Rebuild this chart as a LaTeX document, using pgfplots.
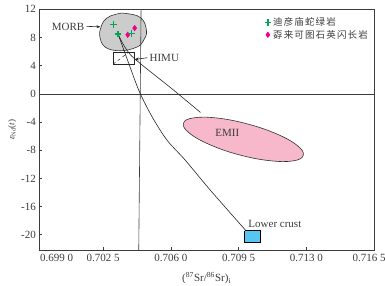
\documentclass[border=0pt]{standalone}
\usepackage{pgfplots}
\pgfplotsset{compat=1.18}
\usepackage{fontspec}
\setmainfont{Liberation Serif}
\newfontfamily\cjk[LetterSpace=12]{Noto Sans CJK SC}
\usetikzlibrary{arrows.meta}
\definecolor{gplus}{RGB}{0,166,81}
\definecolor{mdiam}{RGB}{236,0,140}
\definecolor{morbgray}{RGB}{204,204,204}
\definecolor{empink}{RGB}{247,184,204}
\definecolor{lcblue}{RGB}{86,197,240}
\definecolor{axgray}{RGB}{60,60,60}
\begin{document}
\begin{tikzpicture}
\begin{axis}[
  scale only axis, width=334.7pt, height=241pt,
  xmin=0.6992, xmax=0.7165, ymin=-22.2, ymax=12,
  axis line style={axgray, line width=0.6pt},
  tick align=inside, xtick pos=bottom, ytick pos=left,
  major tick length=3pt,
  tick style={axgray, line width=0.6pt},
  scaled x ticks=false,
  xtick={0.7025,0.7060,0.7095,0.7130},
  xticklabels={0.702 5,0.706 0,0.709 5,0.713 0},
  extra x ticks={0.70010,0.71625},
  extra x tick labels={0.699 0,0.716 5},
  extra x tick style={major tick length=0pt},
  ytick={-20,-16,...,12},
  /pgf/number format/assume math mode=true,
  ticklabel style={font=\fontsize{11}{13}\selectfont, text=axgray},
  xlabel={(\textsuperscript{87}Sr/\textsuperscript{86}Sr)\textsubscript{i}},
  xlabel style={at={(rel axis cs:0.5,0)}, anchor=center, yshift=-27.7pt, font=\fontsize{11}{13}\selectfont, text=axgray},
  ylabel={\textit{ε}\textsubscript{Nd}(\textit{t})},
  ylabel style={at={(rel axis cs:-0.0807,0.5)}, anchor=center, font=\fontsize{9}{11}\selectfont, text=axgray},
  legend style={draw=none, fill=none, at={(1,1)}, anchor=north east, xshift=-3pt, yshift=-5pt,
    font=\cjk\fontsize{9.5}{10}\selectfont, text=axgray, row sep=-1pt, inner sep=1pt},
  legend cell align=left,
  legend image code/.code={\draw[#1] plot coordinates {(0pt,0pt)};},
]
% MORB field
\addplot[fill=morbgray, draw=black!80, line width=0.6pt, smooth cycle, tension=0.7, forget plot] coordinates {
(0.70365,11.42) (0.70445,10.78) (0.70474,8.95) (0.70458,7.53) (0.70422,6.61) (0.70339,6.12)
(0.70262,6.61) (0.70233,8.10) (0.70241,9.65) (0.70267,10.71) (0.70314,11.28)};
% EMII field
\addplot[fill=empink, draw=black!80, line width=0.6pt, smooth cycle, tension=0.7, forget plot] coordinates {
(0.71284,-8.73) (0.71232,-9.51) (0.71110,-9.48) (0.70953,-8.65) (0.70802,-7.22) (0.70696,-5.58)
(0.70665,-4.18) (0.70717,-3.41) (0.70839,-3.43) (0.70996,-4.27) (0.71148,-5.70) (0.71254,-7.34)};
% reference lines
\addplot[axgray, line width=0.6pt, forget plot] coordinates {(0.6992,0) (0.7165,0)};
\addplot[axgray, line width=0.6pt, forget plot] coordinates {(0.70446,12) (0.70434,-22.2)};
% lower crust box
\addplot[fill=lcblue, draw=black, line width=0.7pt, forget plot] coordinates {
(0.70981,-19.42) (0.71062,-19.42) (0.71062,-21.06) (0.70981,-21.06) (0.70981,-19.42)};
% HIMU box
\addplot[draw=black!85, line width=0.6pt, forget plot] coordinates {
(0.70301,4.21) (0.70412,4.21) (0.70412,5.88) (0.70301,5.88) (0.70301,4.21)};
\addplot[draw=black!85, line width=0.5pt, dashed, forget plot] coordinates {(0.70301,4.21) (0.70381,5.88)};
% mixing curves
\addplot[black!85, line width=0.6pt, smooth, forget plot] coordinates {
(0.70327,8.48) (0.70381,4.42) (0.70437,0.33) (0.70505,-3.35) (0.70581,-6.60) (0.70675,-9.43) (0.70804,-13.67) (0.70985,-19.32)};
\addplot[black!85, line width=0.6pt, smooth, forget plot] coordinates {
(0.70327,8.48) (0.70355,6.97) (0.70391,5.55) (0.70443,4.28) (0.70520,2.59) (0.70623,0.33) (0.70753,-2.64)};
% samples
\addplot[only marks, mark=+, mark size=3.3pt, gplus, line width=1.3pt] coordinates {
(0.70305,9.80) (0.70327,8.48)};
\addlegendentry{迪彦庙蛇绿岩}
\addplot[only marks, mark=diamond*, mark size=2.8pt, mdiam, draw=mdiam] coordinates {
(0.70377,8.38) (0.70413,9.33)};
\addlegendentry{孬来可图石英闪长岩}
\addplot[only marks, mark=+, mark size=3.3pt, gplus, line width=1.3pt, forget plot] coordinates {
(0.70396,8.57)};
% labels
\draw[black!85, line width=0.6pt, -{Stealth[length=4pt,width=3pt]}] (axis cs:0.70164,9.58) -- (axis cs:0.70236,9.51);
\node[anchor=east, font=\fontsize{11}{13}\selectfont, text=axgray, inner sep=1pt] at (axis cs:0.70159,9.55) {MORB};
\draw[black!85, line width=0.6pt, -{Stealth[length=4pt,width=3pt]}] (axis cs:0.70479,5.13) -- (axis cs:0.70414,4.89);
\node[anchor=west, font=\fontsize{11}{13}\selectfont, text=axgray, inner sep=1pt] at (axis cs:0.70484,5.10) {HIMU};
\node[font=\fontsize{11}{13}\selectfont, text=axgray] at (axis cs:0.70892,-5.61) {EMII};
\node[anchor=west, font=\fontsize{11}{13}\selectfont, text=axgray, inner sep=1pt] at (axis cs:0.70995,-18.47) {Lower crust};
\end{axis}
\pgfresetboundingbox
\path ([xshift=-39.3pt,yshift=-35.7pt]current axis.south west) rectangle ([xshift=11pt,yshift=9.3pt]current axis.north east);
\end{tikzpicture}
\end{document}
